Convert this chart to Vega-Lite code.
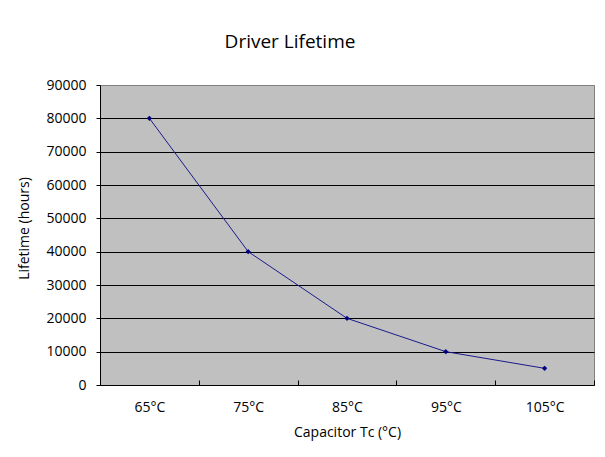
{
  "$schema": "https://vega.github.io/schema/vega-lite/v6.json",
  "width": 494,
  "height": 300,
  "autosize": {"type": "none"},
  "padding": {"left": 100, "top": 85, "right": 11, "bottom": 72},
  "background": "white",
  "title": {
    "text": "Driver Lifetime",
    "font": "Open Sans",
    "fontSize": 19,
    "fontWeight": "normal",
    "color": "#000000",
    "anchor": "middle",
    "frame": "group",
    "baseline": "alphabetic",
    "offset": 11,
    "dx": -57
  },
  "config": {
    "view": {"fill": "#c0c0c0", "stroke": "#808080", "strokeWidth": 1},
    "axis": {"labelFont": "Open Sans", "titleFont": "Open Sans", "labelColor": "#000000", "titleColor": "#000000", "titleFontWeight": "normal"}
  },
  "data": {
    "values": [
      {"temp": "65°C", "life": 80000},
      {"temp": "75°C", "life": 40000},
      {"temp": "85°C", "life": 20000},
      {"temp": "95°C", "life": 10000},
      {"temp": "105°C", "life": 5000}
    ]
  },
  "encoding": {
    "x": {
      "field": "temp",
      "type": "ordinal",
      "sort": null,
      "scale": {"paddingInner": 0, "paddingOuter": 0},
      "axis": {
        "title": "Capacitor Tc (°C)",
        "titleFontSize": 14,
        "titleX": 247,
        "titleY": 51,
        "titleAlign": "center",
        "titleBaseline": "alphabetic",
        "labelAngle": 0,
        "labelFontSize": 14,
        "labelBaseline": "alphabetic",
        "labelPadding": 31,
        "tickBand": "extent",
        "tickSize": -5,
        "tickColor": "#000000",
        "domainColor": "#000000",
        "grid": false
      }
    },
    "y": {
      "field": "life",
      "type": "quantitative",
      "scale": {"domain": [0, 90000], "nice": false},
      "axis": {
        "title": "Lifetime (hours)",
        "titleFontSize": 14,
        "titleX": -76,
        "titleY": 143,
        "titleAngle": -90,
        "titleAlign": "center",
        "titleBaseline": "middle",
        "values": [0, 10000, 20000, 30000, 40000, 50000, 60000, 70000, 80000, 90000],
        "format": "d",
        "labelFontSize": 14,
        "labelPadding": 10,
        "tickSize": 4,
        "tickColor": "#000000",
        "domainColor": "#000000",
        "grid": true,
        "gridColor": {"condition": {"test": "datum.value === 90000 || datum.value === 0", "value": "#808080"}, "value": "#000000"},
        "gridOpacity": 1
      }
    }
  },
  "layer": [
    {"mark": {"type": "line", "color": "#1a1a8c", "strokeWidth": 1}},
    {"mark": {"type": "point", "shape": "diamond", "filled": true, "color": "#000080", "size": 28, "opacity": 1}}
  ]
}
